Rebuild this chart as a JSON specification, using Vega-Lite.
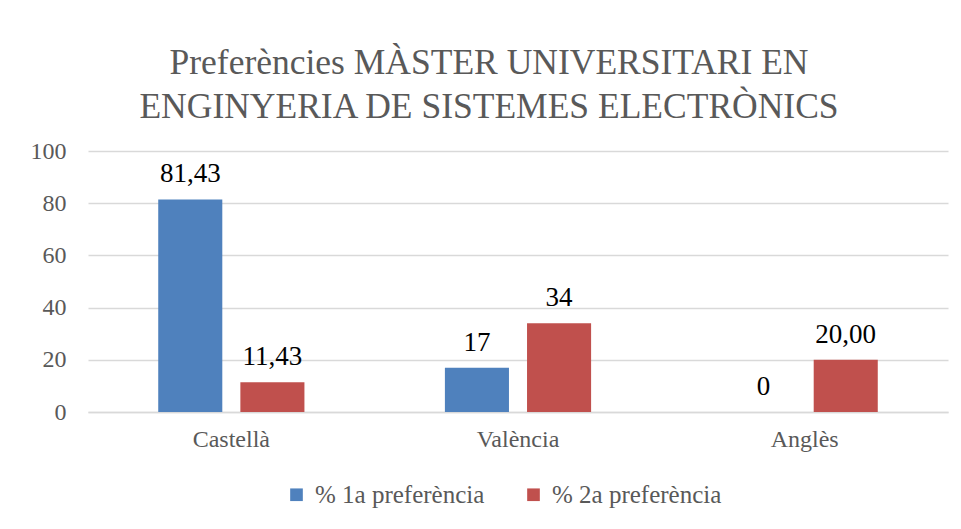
{
  "$schema": "https://vega.github.io/schema/vega-lite/v6.json",
  "width": 860,
  "height": 261,
  "autosize": {"type": "none"},
  "padding": {"left": 88, "top": 151, "right": 13, "bottom": 117},
  "background": "white",
  "title": {
    "text": ["Preferències MÀSTER UNIVERSITARI EN", "ENGINYERIA DE SISTEMES ELECTRÒNICS"],
    "font": "Liberation Serif",
    "fontSize": 35.5,
    "fontWeight": "normal",
    "color": "#595959",
    "anchor": "middle",
    "frame": "bounds",
    "offset": 14,
    "lineHeight": 44
  },
  "data": {
    "values": [
      {"idioma": "Castellà", "serie": "% 1a preferència", "valor": 81.43, "etiqueta": "81,43"},
      {"idioma": "Castellà", "serie": "% 2a preferència", "valor": 11.43, "etiqueta": "11,43"},
      {"idioma": "València", "serie": "% 1a preferència", "valor": 17, "etiqueta": "17"},
      {"idioma": "València", "serie": "% 2a preferència", "valor": 34, "etiqueta": "34"},
      {"idioma": "Anglès", "serie": "% 1a preferència", "valor": 0, "etiqueta": "0"},
      {"idioma": "Anglès", "serie": "% 2a preferència", "valor": 20, "etiqueta": "20,00"}
    ]
  },
  "encoding": {
    "x": {
      "field": "idioma", "type": "nominal", "sort": ["Castellà", "València", "Anglès"],
      "scale": {"paddingInner": 0.49, "paddingOuter": 0.245},
      "axis": {"title": null, "labelAngle": 0, "ticks": false, "domainColor": "#d9d9d9", "domainWidth": 1.5,
        "labelFont": "Liberation Serif", "labelFontSize": 24, "labelColor": "#595959", "labelPadding": 15}
    },
    "xOffset": {"field": "serie", "type": "nominal", "scale": {"paddingInner": 0.22, "paddingOuter": 0}},
    "y": {
      "field": "valor", "type": "quantitative",
      "scale": {"domain": [0, 100], "nice": false},
      "axis": {"title": null, "values": [0, 20, 40, 60, 80, 100], "domain": false, "ticks": false,
        "gridColor": "#d9d9d9", "gridWidth": 1.5,
        "labelFont": "Liberation Serif", "labelFontSize": 24, "labelColor": "#595959", "labelPadding": 22}
    }
  },
  "layer": [
    {
      "mark": {"type": "bar"},
      "encoding": {
        "color": {
          "field": "serie", "type": "nominal",
          "scale": {"domain": ["% 1a preferència", "% 2a preferència"], "range": ["#4f81bd", "#c0504d"]},
          "legend": {"title": null, "orient": "none", "legendX": 196, "legendY": 331, "direction": "horizontal", "symbolType": "square",
            "symbolSize": 160, "symbolStrokeWidth": 0, "labelFont": "Liberation Serif", "labelFontSize": 25,
            "labelColor": "#595959", "labelLimit": 400, "columnPadding": 36, "labelOffset": 6}
        }
      }
    },
    {
      "mark": {"type": "text", "baseline": "alphabetic", "dy": -17, "font": "Liberation Serif", "fontSize": 27, "color": "#000000"},
      "encoding": {"text": {"field": "etiqueta"}}
    }
  ],
  "config": {"view": {"stroke": null}}
}
